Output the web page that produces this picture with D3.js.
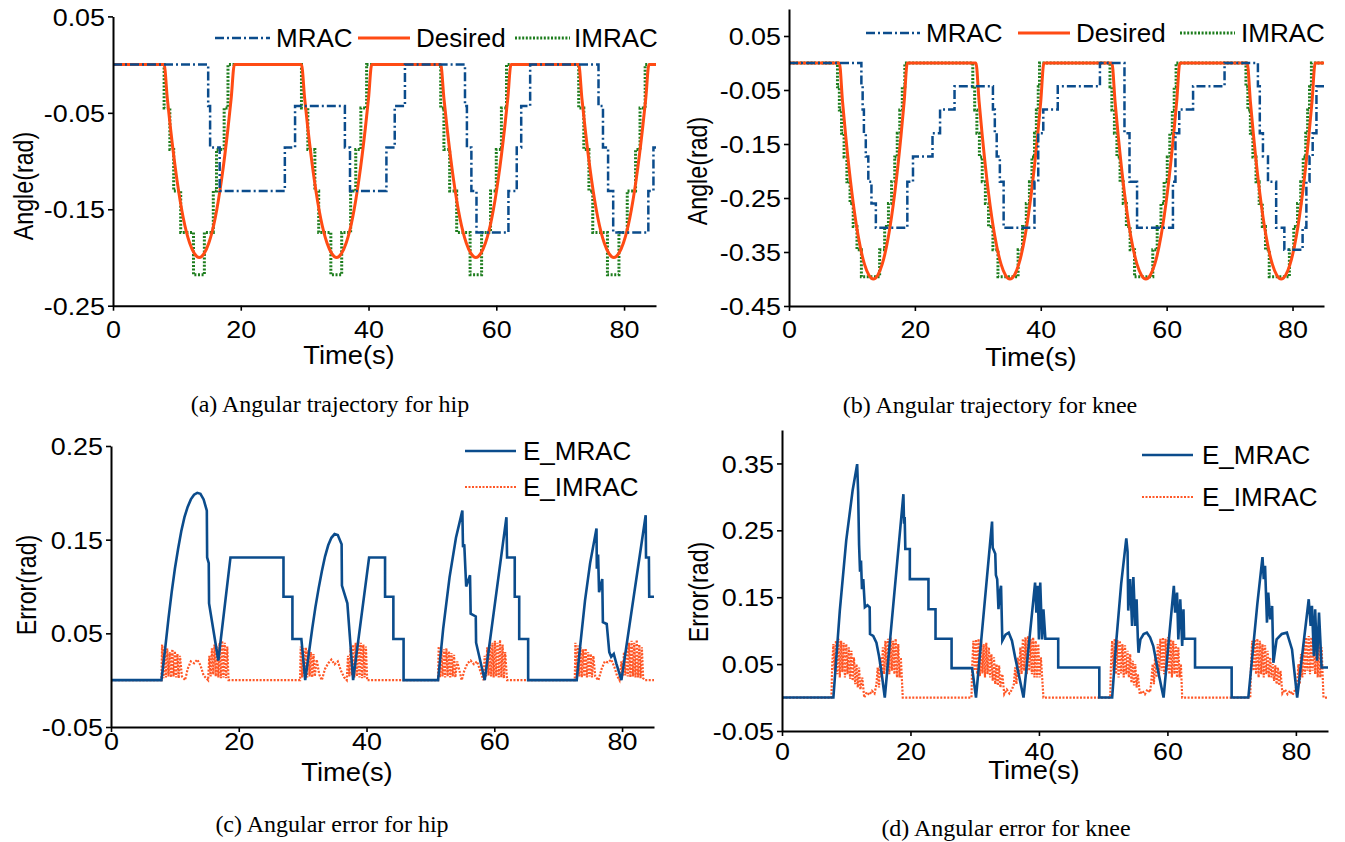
<!DOCTYPE html>
<html>
<head>
<meta charset="utf-8">
<script src="https://cdn.jsdelivr.net/npm/d3@7/dist/d3.min.js"></script>
<style>
  body { margin: 0; background: #fff; }
  svg { display: block; }
  text { font-family: "Liberation Sans", Arial, sans-serif; fill: #000; }
  .caption { font-family: "Liberation Serif", "Times New Roman", serif; }
</style>
</head>
<body>
<div id="chart"></div>
<script>
/* global d3 */

// ---- data (time in s, values in rad) ----
const timeTicks = [0, 20, 40, 60, 80]
const hipAngleTicks = [-0.25, -0.15, -0.05, 0.05]
const kneeAngleTicks = [-0.45, -0.35, -0.25, -0.15, -0.05, 0.05]
const hipErrTicks = [-0.05, 0.05, 0.15, 0.25]
const kneeErrTicks = [-0.05, 0.05, 0.15, 0.25, 0.35]

const angleLegend = ['MRAC', 'Desired', 'IMRAC']
const errLegend = ['E_MRAC', 'E_IMRAC']

const hipDesired = [
  [0, 0], [8.0, 0], [8.5, -0.035], [9.0, -0.066], [10.0, -0.119], [11.0, -0.159], [12.0, -0.185], [12.75, -0.196], [13.5, -0.2],
  [14.25, -0.196], [15.0, -0.185], [16.0, -0.159], [17.0, -0.119], [18.0, -0.066], [18.5, -0.035], [19.0, 0],
  [29.5, 0], [30.0, -0.035], [30.5, -0.066], [31.5, -0.119], [32.5, -0.159], [33.5, -0.185], [34.25, -0.196], [35.0, -0.2],
  [35.75, -0.196], [36.5, -0.185], [37.5, -0.159], [38.5, -0.119], [39.5, -0.066], [40.0, -0.035], [40.5, 0],
  [51.3, 0], [51.8, -0.035], [52.3, -0.066], [53.3, -0.119], [54.3, -0.159], [55.3, -0.185], [56.05, -0.196], [56.8, -0.2],
  [57.55, -0.196], [58.3, -0.185], [59.3, -0.159], [60.3, -0.119], [61.3, -0.066], [61.8, -0.035], [62.3, 0],
  [72.9, 0], [73.4, -0.035], [73.9, -0.066], [74.9, -0.119], [75.9, -0.159], [76.9, -0.185], [77.65, -0.196], [78.4, -0.2],
  [79.15, -0.196], [79.9, -0.185], [80.9, -0.159], [81.9, -0.119], [82.9, -0.066], [83.4, -0.035], [83.9, 0], [85, 0]
]
// step series: [time the level starts, level]
const hipMRAC = [
  [0, 0], [14.9, -0.043], [15.2, -0.086], [16.7, -0.131], [26.9, -0.086], [28.5, -0.043], [36.3, -0.086], [37.1, -0.131],
  [42.8, -0.086], [44.1, -0.043], [45.7, 0], [55.1, -0.043], [55.4, -0.086], [56.1, -0.131], [56.9, -0.174], [61.9, -0.131],
  [63.2, -0.086], [63.9, -0.043], [65.3, 0], [76.0, -0.043], [76.7, -0.086], [77.5, -0.131], [78.3, -0.174], [83.8, -0.131],
  [84.6, -0.086], [85, -0.086]
]
const hipIMRAC = [
  [0, 0], [8.0, -0.045], [8.9, -0.088], [9.5, -0.131], [10.6, -0.174], [12.6, -0.218], [14.3, -0.174], [15.7, -0.131],
  [16.2, -0.088], [17.4, -0.045], [18.0, 0],
  [29.5, -0.045], [30.5, -0.088], [31.6, -0.131], [32.2, -0.174], [34.1, -0.218], [35.8, -0.174], [37.2, -0.131],
  [38.0, -0.088], [38.8, -0.045], [39.7, 0],
  [51.3, -0.045], [51.8, -0.088], [52.7, -0.131], [53.8, -0.174], [55.9, -0.218], [57.7, -0.174], [59.1, -0.131],
  [60.0, -0.088], [60.8, -0.045], [61.6, 0],
  [72.9, -0.045], [73.7, -0.088], [74.5, -0.131], [75.1, -0.174], [77.4, -0.218], [79.2, -0.174], [80.5, -0.131],
  [81.8, -0.088], [82.5, -0.045], [83.3, 0], [85, 0]
]

const kneeDesired = [
  [0, 0], [8.0, 0], [8.5, -0.071], [9.0, -0.134], [10.0, -0.241], [11.0, -0.321], [12.0, -0.373], [12.7, -0.393], [13.4, -0.4],
  [14.1, -0.393], [14.8, -0.373], [15.8, -0.321], [16.8, -0.241], [17.8, -0.134], [18.3, -0.071], [18.8, 0],
  [29.7, 0], [30.2, -0.071], [30.7, -0.134], [31.7, -0.241], [32.7, -0.321], [33.7, -0.373], [34.4, -0.393], [35.1, -0.4],
  [35.8, -0.393], [36.5, -0.373], [37.5, -0.321], [38.5, -0.241], [39.5, -0.134], [40.0, -0.071], [40.5, 0],
  [51.3, 0], [51.8, -0.071], [52.3, -0.134], [53.3, -0.241], [54.3, -0.321], [55.3, -0.373], [56.0, -0.393], [56.7, -0.4],
  [57.4, -0.393], [58.1, -0.373], [59.1, -0.321], [60.1, -0.241], [61.1, -0.134], [61.6, -0.071], [62.1, 0],
  [72.8, 0], [73.3, -0.071], [73.8, -0.134], [74.8, -0.241], [75.8, -0.321], [76.8, -0.373], [77.5, -0.393], [78.2, -0.4],
  [78.9, -0.393], [79.6, -0.373], [80.6, -0.321], [81.6, -0.241], [82.6, -0.134], [83.1, -0.071], [83.6, 0], [85, 0]
]
const kneeMRAC = [
  [0, 0], [11.5, -0.043], [11.7, -0.086], [11.9, -0.13], [12.2, -0.173], [12.6, -0.22], [13.1, -0.26], [13.8, -0.305],
  [18.8, -0.22], [19.7, -0.173], [22.8, -0.13], [24.0, -0.086], [26.3, -0.043], [32.4, -0.086], [32.7, -0.13],
  [33.0, -0.173], [33.5, -0.22], [34.1, -0.305], [39.0, -0.22], [39.6, -0.13], [40.4, -0.086], [42.7, -0.043], [49.4, 0],
  [53.3, -0.13], [54.1, -0.22], [55.3, -0.305], [61.0, -0.22], [61.4, -0.13], [62.0, -0.086], [64.2, -0.043], [69.2, 0],
  [74.5, -0.043], [74.8, -0.13], [75.3, -0.173], [76.1, -0.22], [77.4, -0.305], [78.7, -0.346], [81.6, -0.305],
  [82.2, -0.22], [82.7, -0.173], [83.2, -0.13], [83.8, -0.043], [85, -0.043]
]
const kneeIMRAC = [
  [0, 0], [7.7, -0.044], [8.0, -0.087], [8.35, -0.13], [8.75, -0.174], [9.2, -0.22], [9.7, -0.26], [10.2, -0.303],
  [10.8, -0.346], [11.5, -0.396], [14.4, -0.346], [15.2, -0.303], [15.8, -0.26], [16.3, -0.22], [16.8, -0.174],
  [17.2, -0.13], [17.6, -0.087], [18.0, -0.044], [18.4, 0],
  [29.2, -0.044], [29.5, -0.087], [29.85, -0.13], [30.25, -0.174], [30.7, -0.22], [31.2, -0.26], [31.7, -0.303],
  [32.4, -0.346], [33.2, -0.396], [36.4, -0.346], [37.1, -0.303], [37.7, -0.26], [38.2, -0.22], [38.6, -0.174],
  [39.0, -0.13], [39.3, -0.087], [39.6, -0.044], [39.8, 0],
  [51.0, -0.044], [51.3, -0.087], [51.7, -0.13], [52.1, -0.174], [52.6, -0.22], [53.1, -0.26], [53.6, -0.303],
  [54.2, -0.346], [54.9, -0.396], [57.8, -0.346], [58.5, -0.303], [59.1, -0.26], [59.6, -0.22], [60.1, -0.174],
  [60.5, -0.13], [60.9, -0.087], [61.2, -0.044], [61.5, 0],
  [72.6, -0.044], [72.9, -0.087], [73.3, -0.13], [73.7, -0.174], [74.2, -0.22], [74.7, -0.26], [75.2, -0.303],
  [75.7, -0.346], [76.3, -0.396], [79.5, -0.346], [80.2, -0.303], [80.8, -0.26], [81.3, -0.22], [81.7, -0.174],
  [82.1, -0.13], [82.4, -0.087], [82.7, -0.044], [83.0, 0], [85, 0]
]

const hipErrMRAC = [
  [0, 0], [7.9, 0], [8.5, 0.035], [9.0, 0.066], [9.5, 0.094], [10.0, 0.119], [10.5, 0.14], [11.0, 0.159], [11.5, 0.174],
  [12.0, 0.185], [12.5, 0.193], [13.0, 0.198], [13.5, 0.2], [14.0, 0.199], [14.5, 0.193], [15.0, 0.181], [15.05, 0.131],
  [15.3, 0.125], [15.35, 0.082], [16.8, 0.021], [18.7, 0.131], [27.0, 0.131], [27.0, 0.089], [28.4, 0.089], [28.4, 0.044],
  [29.8, 0.044], [30.4, 0.0], [31.0, 0.03], [31.5, 0.055], [32.0, 0.078], [32.5, 0.098], [33.0, 0.116], [33.5, 0.132],
  [34.0, 0.144], [34.5, 0.152], [35.0, 0.156], [35.5, 0.155], [36.1, 0.145], [36.15, 0.101], [37.0, 0.082], [37.9, 0.0],
  [40.4, 0.131], [42.9, 0.131], [42.9, 0.089], [44.2, 0.089], [44.2, 0.044], [45.8, 0.044], [45.8, 0], [51.2, 0],
  [52.0, 0.055], [53.0, 0.11], [54.0, 0.152], [55.0, 0.181], [55.1, 0.142], [55.3, 0.145], [55.6, 0.1], [56.2, 0.112],
  [56.3, 0.071], [57.1, 0.068], [57.15, 0.04], [58.5, 0.0], [61.9, 0.174], [62.0, 0.131], [63.2, 0.131], [63.2, 0.089],
  [63.9, 0.089], [63.9, 0.044], [65.3, 0.044], [65.3, 0], [72.9, 0], [73.5, 0.04], [74.2, 0.085], [75.0, 0.125],
  [76.0, 0.162], [76.05, 0.119], [76.25, 0.134], [76.4, 0.094], [76.9, 0.108], [77.0, 0.062], [77.6, 0.06], [78.0, 0.03],
  [78.3, 0.025], [78.7, 0.028], [79.1, 0.018], [79.9, 0.0], [83.7, 0.176], [83.75, 0.131], [84.2, 0.131], [84.25, 0.089],
  [85, 0.089]
]
const hipErrIMRAC = [
  [0, 0], [7.9, 0], [8.0, 0.038], [8.2, 0.002], [8.4, 0.036], [8.6, 0.003], [8.8, 0.034], [9.0, 0.004], [9.2, 0.03],
  [9.4, 0.003], [9.6, 0.033], [9.8, 0.004], [10.0, 0.031], [10.2, 0.003], [10.4, 0.028], [10.6, 0.002], [10.8, 0.026],
  [11.1, 0.004], [11.6, 0.0], [12.0, 0.012], [12.5, 0.02], [13.0, 0.018], [13.5, 0.022], [14.0, 0.016], [14.5, 0.005],
  [15.2, 0.0], [15.4, 0.026], [15.6, 0.004], [15.8, 0.034], [16.0, 0.006], [16.2, 0.038], [16.4, 0.004], [16.6, 0.036],
  [16.8, 0.003], [17.0, 0.04], [17.2, 0.002], [17.4, 0.042], [17.6, 0.003], [17.8, 0.04], [18.0, 0.002], [18.2, 0.036],
  [18.4, 0.0], [29.6, 0], [29.7, 0.036], [29.9, 0.003], [30.1, 0.034], [30.3, 0.004], [30.5, 0.035], [30.7, 0.003],
  [30.9, 0.032], [31.1, 0.004], [31.3, 0.03], [31.5, 0.003], [31.7, 0.028], [31.9, 0.004], [32.2, 0.022], [32.6, 0.006],
  [33.0, 0.0], [33.5, 0.012], [34.0, 0.018], [34.5, 0.022], [35.0, 0.017], [35.5, 0.02], [36.0, 0.01], [36.5, 0.003],
  [36.9, 0.0], [37.1, 0.026], [37.3, 0.004], [37.5, 0.034], [37.7, 0.005], [37.9, 0.038], [38.1, 0.003], [38.3, 0.04],
  [38.5, 0.004], [38.7, 0.042], [38.9, 0.003], [39.1, 0.04], [39.3, 0.002], [39.5, 0.038], [39.7, 0.003], [39.9, 0.036],
  [40.1, 0.0], [51.2, 0], [51.3, 0.036], [51.5, 0.003], [51.7, 0.035], [51.9, 0.004], [52.1, 0.033], [52.3, 0.003],
  [52.5, 0.034], [52.7, 0.004], [52.9, 0.031], [53.1, 0.003], [53.3, 0.029], [53.5, 0.004], [53.7, 0.027], [53.9, 0.003],
  [54.2, 0.02], [54.9, 0.0], [55.3, 0.01], [55.8, 0.018], [56.3, 0.021], [56.8, 0.017], [57.3, 0.02], [57.8, 0.01],
  [58.3, 0.0], [58.5, 0.026], [58.7, 0.004], [58.9, 0.035], [59.1, 0.005], [59.3, 0.038], [59.5, 0.004], [59.7, 0.04],
  [59.9, 0.003], [60.1, 0.042], [60.3, 0.004], [60.5, 0.04], [60.7, 0.003], [60.9, 0.043], [61.1, 0.003], [61.3, 0.038],
  [61.5, 0.002], [61.7, 0.03], [62.0, 0.0], [72.6, 0], [72.7, 0.04], [72.9, 0.003], [73.1, 0.037], [73.3, 0.004],
  [73.5, 0.035], [73.7, 0.003], [73.9, 0.033], [74.1, 0.004], [74.3, 0.034], [74.5, 0.003], [74.7, 0.03], [74.9, 0.004],
  [75.1, 0.028], [75.3, 0.003], [75.5, 0.026], [75.8, 0.004], [76.3, 0.0], [76.8, 0.012], [77.3, 0.02], [77.8, 0.019],
  [78.3, 0.022], [78.8, 0.014], [79.2, 0.005], [79.6, 0.0], [79.9, 0.02], [80.1, 0.004], [80.3, 0.03], [80.5, 0.005],
  [80.7, 0.036], [80.9, 0.004], [81.1, 0.04], [81.3, 0.003], [81.5, 0.042], [81.7, 0.004], [81.9, 0.04], [82.1, 0.003],
  [82.3, 0.043], [82.5, 0.003], [82.7, 0.038], [82.9, 0.002], [83.1, 0.035], [83.3, 0.002], [83.6, 0.0], [85, 0]
]

const kneeErrMRAC = [
  [0, 0], [8.0, 0], [9.0, 0.13], [10.0, 0.235], [11.0, 0.31], [11.7, 0.349], [11.85, 0.308], [12.0, 0.228], [12.15, 0.188],
  [12.3, 0.205], [12.45, 0.162], [12.65, 0.177], [12.9, 0.135], [13.3, 0.138], [13.65, 0.135], [13.7, 0.095], [14.2, 0.092],
  [14.7, 0.082], [15.1, 0.062], [15.5, 0.037], [16.0, 0.0], [18.9, 0.304], [19.0, 0.26], [19.1, 0.27], [19.2, 0.222],
  [19.9, 0.222], [19.9, 0.177], [22.8, 0.177], [22.8, 0.132], [23.9, 0.132], [23.9, 0.088], [26.4, 0.088], [26.4, 0.044],
  [29.6, 0.044], [30.2, 0.0], [32.7, 0.263], [32.8, 0.224], [33.2, 0.215], [33.3, 0.183], [33.5, 0.177], [33.7, 0.132],
  [33.9, 0.157], [34.1, 0.167], [34.3, 0.085], [34.8, 0.094], [35.3, 0.097], [35.8, 0.085], [36.3, 0.06], [36.8, 0.037],
  [37.6, 0.0], [39.4, 0.172], [39.6, 0.127], [39.8, 0.167], [40.0, 0.087], [40.2, 0.172], [40.5, 0.087], [40.7, 0.132],
  [41.0, 0.088], [43.0, 0.088], [43.0, 0.045], [49.4, 0.045], [49.4, 0], [51.4, 0], [52.0, 0.08], [52.8, 0.17],
  [53.6, 0.238], [53.8, 0.218], [53.9, 0.13], [54.2, 0.177], [54.5, 0.107], [54.7, 0.18], [55.0, 0.107], [55.2, 0.147],
  [55.4, 0.087], [55.5, 0.067], [55.8, 0.087], [56.3, 0.095], [56.8, 0.097], [57.3, 0.09], [57.8, 0.077], [58.6, 0.037],
  [59.4, 0.0], [61.0, 0.167], [61.2, 0.127], [61.5, 0.157], [61.7, 0.087], [62.0, 0.147], [62.3, 0.077], [62.5, 0.132],
  [62.6, 0.088], [64.3, 0.088], [64.3, 0.045], [70.0, 0.045], [70.0, 0], [72.6, 0], [73.3, 0.07], [74.0, 0.14],
  [74.8, 0.21], [75.0, 0.177], [75.2, 0.197], [75.5, 0.112], [75.7, 0.157], [76.0, 0.117], [76.3, 0.137], [76.5, 0.052],
  [77.0, 0.087], [77.8, 0.095], [78.6, 0.097], [79.4, 0.072], [80.2, 0.0], [82.0, 0.147], [82.3, 0.107], [82.5, 0.137],
  [82.8, 0.062], [83.0, 0.132], [83.3, 0.055], [83.6, 0.127], [83.8, 0.087], [84.0, 0.045], [85, 0.045]
]
const kneeErrIMRAC = [
  [0, 0], [7.7, 0], [7.8, 0.045], [8.0, 0.08], [8.2, 0.04], [8.4, 0.085], [8.6, 0.035], [8.8, 0.088], [9.0, 0.03],
  [9.2, 0.085], [9.4, 0.038], [9.6, 0.082], [9.8, 0.03], [10.0, 0.08], [10.2, 0.035], [10.4, 0.075], [10.6, 0.028],
  [10.8, 0.07], [11.0, 0.025], [11.2, 0.06], [11.4, 0.02], [11.6, 0.05], [11.8, 0.015], [12.0, 0.045], [12.2, 0.012],
  [12.5, 0.03], [12.8, 0.0], [13.2, 0.008], [13.6, 0.004], [14.0, 0.01], [14.4, 0.006], [14.7, 0.02], [14.9, 0.045],
  [15.1, 0.015], [15.3, 0.06], [15.5, 0.03], [15.7, 0.075], [15.9, 0.035], [16.1, 0.085], [16.3, 0.04], [16.5, 0.088],
  [16.7, 0.035], [16.9, 0.09], [17.1, 0.04], [17.3, 0.085], [17.5, 0.035], [17.7, 0.088], [17.9, 0.03], [18.1, 0.08],
  [18.3, 0.03], [18.5, 0.06], [18.8, 0.0],
  [29.5, 0], [29.6, 0.045], [29.8, 0.085], [30.0, 0.04], [30.2, 0.087], [30.4, 0.035], [30.6, 0.088], [30.8, 0.032],
  [31.0, 0.085], [31.2, 0.036], [31.4, 0.08], [31.6, 0.03], [31.8, 0.082], [32.0, 0.035], [32.2, 0.075], [32.4, 0.03],
  [32.6, 0.065], [32.8, 0.025], [33.0, 0.06], [33.2, 0.02], [33.4, 0.05], [33.6, 0.018], [33.8, 0.048], [34.0, 0.015],
  [34.3, 0.035], [34.6, 0.005], [35.0, 0.012], [35.4, 0.006], [35.8, 0.012], [36.1, 0.02], [36.3, 0.045], [36.5, 0.02],
  [36.7, 0.06], [36.9, 0.03], [37.1, 0.075], [37.3, 0.035], [37.5, 0.088], [37.7, 0.04], [37.9, 0.09], [38.1, 0.035],
  [38.3, 0.092], [38.5, 0.04], [38.7, 0.088], [38.9, 0.035], [39.1, 0.09], [39.3, 0.03], [39.5, 0.085], [39.7, 0.03],
  [39.9, 0.08], [40.1, 0.03], [40.3, 0.06], [40.7, 0.0],
  [51.1, 0], [51.2, 0.045], [51.4, 0.085], [51.6, 0.04], [51.8, 0.088], [52.0, 0.035], [52.2, 0.086], [52.4, 0.03],
  [52.6, 0.085], [52.8, 0.036], [53.0, 0.08], [53.2, 0.03], [53.4, 0.078], [53.6, 0.035], [53.8, 0.07], [54.0, 0.03],
  [54.2, 0.065], [54.4, 0.022], [54.6, 0.055], [54.8, 0.018], [55.0, 0.05], [55.2, 0.015], [55.4, 0.035], [55.7, 0.005],
  [56.1, 0.01], [56.5, 0.005], [56.9, 0.012], [57.3, 0.008], [57.5, 0.025], [57.7, 0.05], [57.9, 0.02], [58.1, 0.065],
  [58.3, 0.03], [58.5, 0.08], [58.7, 0.035], [58.9, 0.088], [59.1, 0.04], [59.3, 0.09], [59.5, 0.035], [59.7, 0.088],
  [59.9, 0.04], [60.1, 0.09], [60.3, 0.035], [60.5, 0.087], [60.7, 0.03], [60.9, 0.085], [61.1, 0.035], [61.3, 0.08],
  [61.5, 0.03], [61.7, 0.075], [61.9, 0.03], [62.1, 0.05], [62.3, 0.0],
  [72.9, 0], [73.0, 0.045], [73.2, 0.085], [73.4, 0.04], [73.6, 0.087], [73.8, 0.035], [74.0, 0.088], [74.2, 0.03],
  [74.4, 0.085], [74.6, 0.035], [74.8, 0.08], [75.0, 0.03], [75.2, 0.078], [75.4, 0.035], [75.6, 0.07], [75.8, 0.03],
  [76.0, 0.06], [76.2, 0.03], [76.4, 0.05], [76.6, 0.025], [76.8, 0.048], [77.0, 0.02], [77.2, 0.045], [77.4, 0.018],
  [77.6, 0.04], [77.9, 0.006], [78.3, 0.012], [78.7, 0.005], [79.1, 0.01], [79.5, 0.004], [79.9, 0.012], [80.2, 0.02],
  [80.4, 0.05], [80.6, 0.02], [80.8, 0.065], [81.0, 0.03], [81.2, 0.08], [81.4, 0.035], [81.6, 0.09], [81.8, 0.04],
  [82.0, 0.092], [82.2, 0.035], [82.4, 0.09], [82.6, 0.04], [82.8, 0.088], [83.0, 0.035], [83.2, 0.09], [83.4, 0.03],
  [83.6, 0.085], [83.8, 0.03], [84.0, 0.075], [84.3, 0.0], [85, 0]
]

// ---- canvas ----
const width = 1345,
  height = 842,
  tickFont = 24,
  tickStretch = 1.12,
  titleFont = 26,
  legendFont = 26,
  captionFont = 24

let svg = d3.select('#chart')
  .append('svg')
  .attr('width', width)
  .attr('height', height)
  .style('background', '#fff')

// line styles
const styles = {
  MRAC: { color: '#0b4c8c', width: 2.5, dash: '9,3,2,3', curve: d3.curveStepAfter },
  Desired: { color: '#ff4b14', width: 3, dash: null, curve: d3.curveMonotoneX },
  IMRAC: { color: '#1d7d1d', width: 3, dash: '2,1.6', curve: d3.curveStepAfter },
  E_MRAC: { color: '#0b4c8c', width: 2.6, dash: null, curve: d3.curveLinear },
  E_IMRAC: { color: '#ff5726', width: 2.2, dash: '2,1.5', curve: d3.curveLinear }
}

const panels = [
  {
    xr: [113, 656], yr: [305.7, 16.4], yd: [-0.25, 0.05], yTicks: hipAngleTicks, xLabelOff: 32,
    series: [['IMRAC', hipIMRAC], ['Desired', hipDesired], ['MRAC', hipMRAC]],
    yTitle: 'Angle(rad)', yTitlePos: [33, 186], timePos: [349, 364],
    caption: '(a) Angular trajectory for hip', capPos: [330, 412],
    legend: { type: 'row', y: 38, items: [[215, 270, 276], [358, 410, 416], [515, 570, 574]], labels: angleLegend }
  },
  {
    xr: [789, 1324], yr: [306, 9], yd: [-0.45, 0.1], yTicks: kneeAngleTicks, xLabelOff: 32,
    series: [['IMRAC', kneeIMRAC], ['Desired', kneeDesired], ['MRAC', kneeMRAC]],
    yTitle: 'Angle(rad)', yTitlePos: [707, 171], timePos: [1031, 366],
    caption: '(b) Angular trajectory for knee', capPos: [990, 413],
    legend: { type: 'row', y: 33, items: [[866, 920, 926], [1018, 1070, 1076], [1180, 1235, 1241]], labels: angleLegend }
  },
  {
    xr: [111, 654], yr: [727, 446], yd: [-0.05, 0.25], yTicks: hipErrTicks, xLabelOff: 23,
    series: [['E_IMRAC', hipErrIMRAC], ['E_MRAC', hipErrMRAC]],
    yTitle: 'Error(rad)', yTitlePos: [36, 585], timePos: [347, 781],
    caption: '(c) Angular error for hip', capPos: [332, 832],
    legend: { type: 'col', x: [465, 516, 523], ys: [451, 487], labels: errLegend }
  },
  {
    xr: [782, 1328], yr: [731, 430], yd: [-0.05, 0.4], yTicks: kneeErrTicks, xLabelOff: 29,
    series: [['E_IMRAC', kneeErrIMRAC], ['E_MRAC', kneeErrMRAC]],
    yTitle: 'Error(rad)', yTitlePos: [708, 592], timePos: [1034, 779],
    caption: '(d) Angular error for knee', capPos: [1006, 836],
    legend: { type: 'col', x: [1142, 1193, 1202], ys: [455, 497], labels: errLegend }
  }
]

let drawPanel = (p) => {
  const xScale = d3.scaleLinear().domain([0, 85]).range(p.xr)
  const yScale = d3.scaleLinear().domain(p.yd).range(p.yr)

  // lines
  p.series.forEach(([name, data]) => {
    const st = styles[name]
    const line = d3.line()
      .x(d => xScale(d[0]))
      .y(d => yScale(d[1]))
      .curve(st.curve)
    svg.append('path')
      .datum(data)
      .attr('d', line)
      .attr('fill', 'none')
      .attr('stroke', st.color)
      .attr('stroke-width', st.width)
      .attr('stroke-dasharray', st.dash)
  })

  // x axis
  const xAxis = d3.axisBottom(xScale).tickValues(timeTicks).tickSize(5).tickSizeOuter(0)
  const gx = svg.append('g')
    .attr('transform', `translate(0, ${p.yr[0]})`)
    .call(xAxis)
  gx.selectAll('.tick text')
    .attr('y', p.xLabelOff)
    .attr('dy', 0)
    .attr('transform', `scale(${tickStretch},1)`)
    .style('font-size', tickFont + 'px')

  // y axis
  const yAxis = d3.axisLeft(yScale).tickValues(p.yTicks).tickSize(5).tickSizeOuter(0)
    .tickFormat(d => d.toFixed(2))
  const gy = svg.append('g')
    .attr('transform', `translate(${p.xr[0]}, 0)`)
    .call(yAxis)
  gy.selectAll('.tick text')
    .attr('x', 0)
    .attr('dy', '0.36em')
    .attr('transform', `translate(-8,0) scale(${tickStretch},1)`)
    .style('font-size', tickFont + 'px')

  svg.selectAll('.domain').attr('stroke', '#000').attr('stroke-width', 2)
  svg.selectAll('.tick line').attr('stroke', '#000').attr('stroke-width', 1.6)
  svg.selectAll('.tick text').attr('fill', '#000').style('font-family', '"Liberation Sans", Arial, sans-serif')

  // titles
  svg.append('text')
    .attr('transform', `translate(${p.timePos[0]}, ${p.timePos[1]}) scale(1.05,1)`)
    .attr('text-anchor', 'middle')
    .style('font-size', titleFont + 'px')
    .text('Time(s)')

  svg.append('text')
    .attr('transform', `translate(${p.yTitlePos[0]}, ${p.yTitlePos[1]}) rotate(-90) scale(0.86,1)`)
    .attr('text-anchor', 'middle')
    .style('font-size', '27px')
    .text(p.yTitle)

  svg.append('text')
    .attr('class', 'caption')
    .attr('x', p.capPos[0])
    .attr('y', p.capPos[1])
    .attr('text-anchor', 'middle')
    .style('font-size', captionFont + 'px')
    .text(p.caption)

  // legend
  const lg = p.legend
  lg.labels.forEach((label, i) => {
    const st = styles[label]
    let x0, x1, tx, y
    if (lg.type === 'row') {
      [x0, x1, tx] = lg.items[i]
      y = lg.y
    } else {
      [x0, x1, tx] = lg.x
      y = lg.ys[i]
    }
    svg.append('line')
      .attr('x1', x0).attr('x2', x1).attr('y1', y).attr('y2', y)
      .attr('stroke', st.color)
      .attr('stroke-width', st.width)
      .attr('stroke-dasharray', st.dash)
    svg.append('text')
      .attr('x', tx)
      .attr('y', y + 9)
      .style('font-size', legendFont + 'px')
      .text(label)
  })
}

panels.forEach(drawPanel)
</script>
</body>
</html>
